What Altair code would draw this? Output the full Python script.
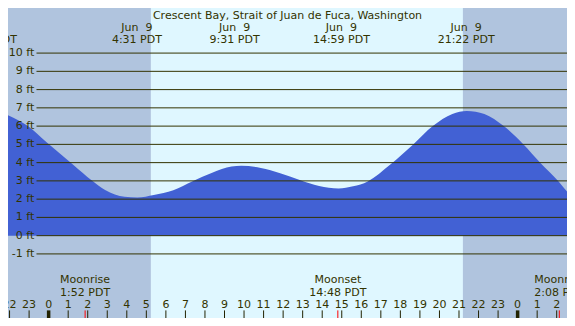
import altair as alt
import pandas as pd

# ---------------- data ----------------
title_text = "Crescent Bay, Strait of Juan de Fuca, Washington"

tide_hours = [-2.08, -1.08, -0.09, 1.24, 2.23, 2.89, 3.89, 4.54, 5.38, 6.38, 7.37,
              8.37, 9.36, 9.86, 10.86, 11.85, 12.85, 13.84, 14.84, 15.58, 16.33,
              17.47, 18.67, 19.66, 20.66, 21.40, 22.30, 23.29, 24.29, 25.18, 26.13, 26.53]
tide_ft = [6.60, 6.02, 5.10, 3.90, 3.01, 2.50, 2.13, 2.09, 2.23, 2.49, 2.98,
           3.45, 3.79, 3.83, 3.71, 3.42, 3.05, 2.72, 2.58, 2.70, 2.97,
           3.88, 5.01, 6.00, 6.66, 6.83, 6.66, 6.00, 5.01, 3.97, 2.93, 2.41]

grid_ft = list(range(-1, 11))
grid_labels = [f"{v} ft" for v in grid_ft]

# the first extreme (previous evening) only shows the tail of its time label
extreme_hours = [-3.08, 4.517, 9.517, 14.983, 21.367]
extreme_dates = ["", "Jun \u00a09", "Jun \u00a09", "Jun \u00a09", "Jun \u00a09"]
extreme_times = ["20:55 PDT", "4:31 PDT", "9:31 PDT", "14:59 PDT", "21:22 PDT"]

sunrise_hour = [5.23]
sunset_hour = [21.20]

hour_ticks = list(range(-2, 27))
hour_labels = [str(h % 24) for h in hour_ticks]
hour_is_midnight = [h % 24 == 0 for h in hour_ticks]

moon_hours = [1.867, 14.8, 26.133]
moon_events = ["Moonrise", "Moonset", "Moonrise"]
moon_times = ["1:52 PDT", "14:48 PDT", "2:08 PDT"]

# ---------------- tables ----------------
tide = pd.DataFrame({"h": tide_hours, "ft": tide_ft})
grid = pd.DataFrame({"ft": grid_ft, "label": grid_labels})
ext = pd.DataFrame({"h": extreme_hours, "date": extreme_dates, "time": extreme_times})
sun = pd.DataFrame({"rise": sunrise_hour, "set": sunset_hour})
hrs = pd.DataFrame({"h": hour_ticks, "label": hour_labels, "mid": hour_is_midnight})
moon = pd.DataFrame({"h": moon_hours, "event": moon_events, "time": moon_times})

# ---------------- layout ----------------
W, H = 559, 310
KX, KY = W / 575, H / 326


def px(v):
    return v * KX


def py(v):
    return v * KY


XS = alt.Scale(domain=[-2.0796, 26.527], range=[0, W], nice=False, zero=False)
YS = alt.Scale(domain=[-4.510, 12.469], range=[H, 0], nice=False, zero=False)

FONT = "DejaVu Sans"
FS = 11
TXT = "#333300"
LINE = "#333300"


def text_layer(df, field, yref, xenc=None, align="center"):
    enc = dict(y=alt.value(py(yref)), text=f"{field}:N")
    enc["x"] = xenc if xenc is not None else alt.X("h:Q", scale=XS, axis=None)
    return alt.Chart(df).mark_text(
        align=align, baseline="alphabetic", font=FONT, fontSize=FS, color=TXT
    ).encode(**enc)


day = alt.Chart(sun).mark_rect(color="#DFF7FF").encode(
    x=alt.X("rise:Q", scale=XS, axis=None),
    x2="set:Q",
    y=alt.value(0),
    y2=alt.value(H),
)

area = alt.Chart(tide).mark_area(color="#4261D4", interpolate="monotone", clip=True).encode(
    x=alt.X("h:Q", scale=XS, axis=None),
    y=alt.Y("ft:Q", scale=YS, axis=None),
    y2=alt.value(H),
)

gridlines = alt.Chart(grid).mark_rule(color=LINE, strokeWidth=1).encode(
    y=alt.Y("ft:Q", scale=YS, axis=None),
    x=alt.value(px(29.3)),
    x2=alt.value(W),
)

gridtext = alt.Chart(grid).mark_text(
    align="right", baseline="middle", font=FONT, fontSize=FS, color=TXT
).encode(
    y=alt.Y("ft:Q", scale=YS, axis=None),
    x=alt.value(px(27)),
    text="label:N",
)

title = alt.Chart(pd.DataFrame({"t": [title_text]})).mark_text(
    align="center", baseline="alphabetic", font=FONT, fontSize=FS, color=TXT
).encode(x=alt.value(px(287.5)), y=alt.value(py(11.3)), text="t:N")

ext_date = text_layer(ext, "date", 24)
ext_time = text_layer(ext, "time", 37)

hour_text = text_layer(hrs, "label", 315.7)

hour_tick = alt.Chart(hrs).mark_rule(color="#222200").encode(
    x=alt.X("h:Q", scale=XS, axis=None),
    y=alt.value(py(318)),
    y2=alt.value(H),
    strokeWidth=alt.condition("datum.mid", alt.value(3.5), alt.value(1)),
)

moon_tick = alt.Chart(moon).mark_rule(color="#FF0000", strokeWidth=1).encode(
    x=alt.X("h:Q", scale=XS, axis=None),
    y=alt.value(py(318)),
    y2=alt.value(H),
)

moon_event = text_layer(moon, "event", 289.6)
moon_time = text_layer(moon, "time", 303.3)

chart = alt.layer(
    day, area, gridlines, gridtext, title, ext_date, ext_time,
    hour_text, moon_tick, hour_tick, moon_event, moon_time,
).properties(
    width=W, height=H, padding=0,
    autosize=alt.AutoSizeParams(type="none"),
    background="#B0C4DE",
).configure_view(stroke=None)

chart.save("out.html", embed_options={"renderer": "svg", "actions": False})
